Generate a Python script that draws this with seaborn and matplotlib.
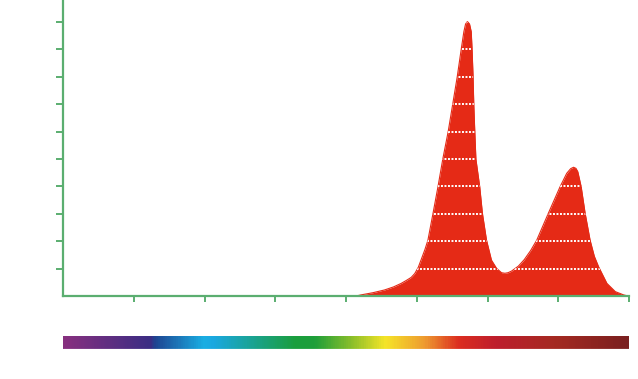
import numpy as np
import matplotlib
matplotlib.use("Agg")
import matplotlib.pyplot as plt
import seaborn as sns
from matplotlib.colors import LinearSegmentedColormap

# spectrum of the lamp (wavelength in nm, relative intensity)
wavelength = [607.1, 610.6, 619.0, 627.2, 633.5, 639.0, 643.0, 646.1, 648.6, 651.1, 653.5, 655.8,
              657.9, 661.5, 665.0, 668.4, 672.2, 675.4, 678.6, 681.4, 683.3, 684.5,
              685.8, 687.3, 688.5, 689.1, 689.8, 690.3, 691.0, 691.8, 694.5, 696.4,
              699.3, 702.8, 706.4, 709.9, 712.3, 714.5, 717.0, 721.8, 726.0, 730.5,
              734.8, 743.0, 751.3, 756.0, 758.8, 760.8, 762.5, 763.8, 766.2, 769.0,
              772.5, 775.5, 778.5, 784.4, 790.3, 796.2, 799.3]
intensity = [0.0, 0.04, 0.12, 0.22, 0.33, 0.46, 0.58, 0.68, 0.82, 1.05, 1.38, 1.70,
             2.04, 3.02, 3.99, 5.0, 6.0, 7.0, 8.0, 9.0, 9.65, 9.93,
             10.02, 9.93, 9.65, 9.0, 8.0, 7.0, 6.02, 5.0, 3.99, 3.02,
             2.04, 1.31, 1.01, 0.85, 0.83, 0.85, 0.91, 1.09, 1.33, 1.66,
             2.04, 3.02, 3.99, 4.48, 4.65, 4.70, 4.66, 4.54, 3.99, 3.02,
             2.04, 1.45, 1.07, 0.46, 0.16, 0.04, 0.0]

x_ticks = [450, 500, 550, 600, 650, 700, 750, 800]
y_ticks = [1, 2, 3, 4, 5, 6, 7, 8, 9, 10]

# colour bar under the chart
bar_pos = [0.0, 0.153, 0.162, 0.247, 0.265, 0.409, 0.445, 0.511, 0.57, 0.64, 0.7, 0.767, 0.87, 1.0]
bar_colors = ["#87307F", "#3B2D84", "#1E4592", "#1AAEE3", "#1BA8E0", "#1A9E3E", "#1E9F3A",
              "#8CBF2A", "#F6E528", "#EE9A30", "#DC2E20", "#BE1E2D", "#A52A22", "#7A2020"]

fill_color = "#E52A16"
axis_color = "#5BAE70"

sns.set_style("white")
fig = plt.figure(figsize=(6.38, 3.79), dpi=100)
ax = fig.add_axes([63 / 638, 83 / 379, 566 / 638, 295 / 379])

sns.lineplot(x=wavelength, y=intensity, color=fill_color, lw=0.8, ax=ax)
poly = ax.fill_between(wavelength, intensity, 0, color=fill_color, lw=0)

# white dotted gridlines only inside the filled area
for lvl in y_ticks:
    ln = ax.hlines(lvl, 400, 800, colors="white", lw=1.4, linestyles=(0, (1.0, 0.8)))
    ln.set_clip_path(poly.get_paths()[0], transform=ax.transData)

ax.set_xlim(400, 800)
ax.set_ylim(0, 10.77)
ax.set_xticks(x_ticks)
ax.set_yticks(y_ticks)
ax.set_xticklabels([])
ax.set_yticklabels([])
for side in ["top", "right"]:
    ax.spines[side].set_visible(False)
for side in ["left", "bottom"]:
    ax.spines[side].set_color(axis_color)
    ax.spines[side].set_linewidth(1.6)
ax.tick_params(axis="both", colors=axis_color, width=1.4, direction="out",
               bottom=True, left=True)
ax.tick_params(axis="y", length=5)
ax.tick_params(axis="x", length=4)

# spectrum strip
cax = fig.add_axes([63 / 638, 29.5 / 379, 566 / 638, 13.5 / 379])
cmap = LinearSegmentedColormap.from_list("spec", list(zip(bar_pos, bar_colors)))
cax.imshow(np.linspace(0, 1, 600).reshape(1, -1), cmap=cmap, aspect="auto", extent=[0, 1, 0, 1])
cax.axhline(0.03, color="white", alpha=0.45, lw=1)
cax.set_axis_off()

fig.savefig("out.png", dpi=100)
